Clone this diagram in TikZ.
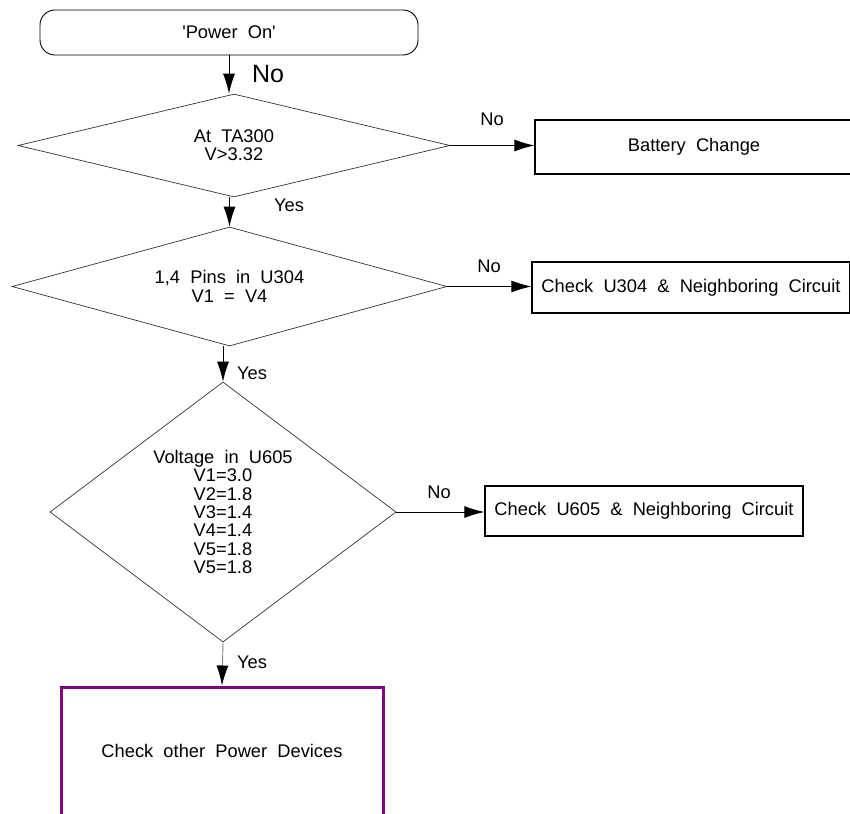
\documentclass[tikz,border=0pt]{standalone}
\usepackage{fontspec}
\setmainfont{Liberation Sans}[WordSpace=2]
\usetikzlibrary{shapes.geometric,arrows.meta}
\definecolor{devpurple}{RGB}{128,0,128}
\newcommand{\flowfont}{\fontsize{18.3}{18.3}\selectfont}
\tikzset{
  flowarrow/.style={-{Latex[length=20pt, width=12pt]}, line width=0.9pt},
  startbox/.style={draw, rounded corners=15pt, line width=0.9pt, minimum width=378pt, minimum height=45pt, align=center},
  checknode/.style={diamond, draw=black!80, line width=0.7pt, inner sep=0pt, align=center},
  actbox/.style={draw, line width=1.2pt, minimum width=318pt, align=center},
  endbox/.style={draw=devpurple, line width=3pt, minimum width=322pt, minimum height=128pt, align=center},
  anslabel/.style={inner sep=0pt}
}

\begin{document}
\begin{tikzpicture}[x=1pt, y=-1pt, every node/.style={font=\flowfont}]
  \useasboundingbox (0,0) rectangle (850,813);
  % main column
  \node[startbox] (pwr) at (229,32.5) {\textquotesingle Power On\textquotesingle};
  \node[checknode, minimum width=432pt, minimum height=103pt, aspect=4.2] (ta) at (234,145.5) {At TA300\\V>3.32};
  \node[checknode, minimum width=435pt, minimum height=119pt, aspect=3.66] (pins) at (229.5,286.5) {1,4 Pins in U304\\V1 = V4};
  \node[checknode, minimum width=346pt, minimum height=260pt, aspect=1.33] (volt) at (223,512) {Voltage in U605\\V1=3.0\\V2=1.8\\V3=1.4\\V4=1.4\\V5=1.8\\V5=1.8};
  \node[endbox] (dev) at (222,751) {Check other Power Devices};
  % side boxes
  \node[actbox, minimum height=54pt] (bat) at (694,147) {Battery Change};
  \node[actbox, minimum height=51pt] (u304) at (691,287.5) {Check U304 \& Neighboring Circuit};
  \node[actbox, minimum height=50pt] (u605) at (644,511) {Check U605 \& Neighboring Circuit};
  % connectors
  \draw[flowarrow] (pwr.south) -- (pwr.south |- ta.north);
  \draw[flowarrow] (ta.east) -- (ta.east -| bat.west);
  \draw[flowarrow] (ta.south -| pins.north) -- (pins.north);
  \draw[flowarrow] (pins.east) -- (pins.east -| u304.west);
  \draw[flowarrow] (pins.south -| volt.north) -- (volt.north);
  \draw[flowarrow] (volt.east) -- (volt.east -| u605.west);
  \draw[flowarrow, draw=gray, -{Latex[length=20pt, width=12pt, black]}] (volt.south) -- (dev.north);
  % answers
  \node[anslabel, font=\fontsize{25}{25}\selectfont] (no0) at (268,74) {No};
  \node[anslabel] (no1) at (492,119) {No};
  \node[anslabel] (yes1) at (289,205) {Yes};
  \node[anslabel] (no2) at (489,266) {No};
  \node[anslabel] (yes2) at (252,373) {Yes};
  \node[anslabel] (no3) at (439,492) {No};
  \node[anslabel] (yes3) at (252,662) {Yes};
\end{tikzpicture}
\end{document}
